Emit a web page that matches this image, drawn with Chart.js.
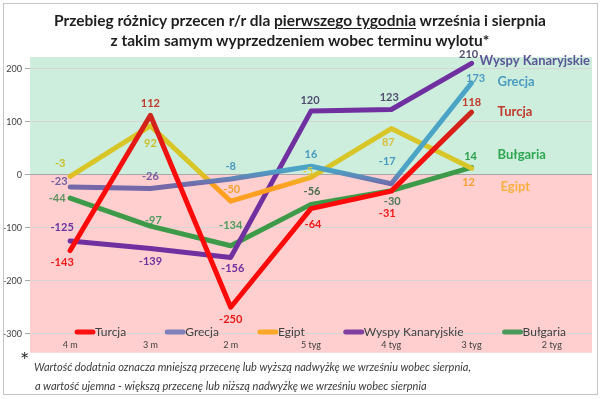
<!DOCTYPE html>
<html>
<head>
<meta charset="utf-8">
<script src="https://cdn.jsdelivr.net/npm/chart.js@4.4.0/dist/chart.umd.min.js"></script>
<style>
  html, body { margin: 0; padding: 0; background: #fff; }
  #wrap { position: relative; width: 600px; height: 399px; overflow: hidden; font-family: Lato, "Open Sans", sans-serif; }
  #frame { position: absolute; left: 3px; top: 3px; width: 595px; height: 392px; border: 1px solid #c4c4c4; box-sizing: border-box; }
  canvas { position: absolute; left: 0; top: 0; }
  .title { position: absolute; left: 0; width: 600px; text-align: center; font-weight: bold; font-size: 15.5px; line-height: 18px; color: #1e1e1e; }
  .title u { text-underline-offset: 2px; }
  .star { position: absolute; left: 20px; top: 349px; font-size: 22px; line-height: 22px; color: #333; }
  .note { position: absolute; font-style: italic; font-size: 11px; line-height: 14px; color: #3a3a3a; white-space: nowrap; }
</style>
</head>
<body>
<div id="wrap">
  <canvas id="chart" width="600" height="399"></canvas>
  <div id="frame"></div>
  <div class="title" style="top:11px">Przebieg różnicy przecen r/r dla <u>pierwszego tygodnia</u> września i sierpnia</div>
  <div class="title" style="top:31px">z takim samym wyprzedzeniem wobec terminu wylotu*</div>
  <div class="star">*</div>
  <div class="note" style="left:34px;top:360px">Wartość dodatnia oznacza mniejszą przecenę lub wyższą nadwyżkę we wrześniu wobec sierpnia,</div>
  <div class="note" style="left:35px;top:379px">a wartość ujemna - większą przecenę lub niższą nadwyżkę we wrześniu wobec sierpnia</div>
</div>
<script>
var categories = ["4 m", "3 m", "2 m", "5 tyg", "4 tyg", "3 tyg", "2 tyg"];
var turcja = [-143, 112, -250, -64, -31, 118, null];
var grecja = [-23, -26, -8, 16, -17, 173, null];
var egipt = [-3, 92, -50, -5, 87, 12, null];
var wyspy = [-125, -139, -156, 120, 123, 210, null];
var bulgaria = [-44, -97, -134, -56, -30, 14, null];
var yTicks = [200, 100, 0, -100, -200, -300];

// label placement / colour per point (pixels from the point)
var labelStyle = {
    "Turcja": { off: [[-8, 12], [0, -12], [0, 12], [2, 16], [-4, 22], [0, -10]],
        col: ['#f01818', '#c0392b', '#f01818', '#f01818', '#f01818', '#c0392b'] },
    "Grecja": { off: [[-11, -5], [0, -12], [0, -12], [0, -12], [-4, -22], [4, -5]],
        col: ['#7060a0', '#7060a0', '#4a9ac0', '#4a9ac0', '#4a9ac0', '#4a9ac0'] },
    "Egipt": { off: [[-10, -13], [0, 18], [1, -12], [-3, -6], [-3, 14], [-3, 14]],
        col: ['#c8bf2a', '#c8bf2a', '#f7a030', '#d8c83a', '#d8c040', '#f7a030'] },
    "Wyspy Kanaryjskie": { off: [[-8, -14], [0, 13], [2, 11], [-1, -11], [-2, -12], [-3, -9]],
        col: ['#7030a0', '#7030a0', '#7030a0', '#4f4f70', '#4f4f70', '#4f4f70'] },
    "Bułgaria": { off: [[-13, 0], [3, -6], [0, -20], [1, -13], [1, 11], [-1, -11]],
        col: ['#5e8f60', '#4e9a5a', '#4e9a5a', '#4a6a50', '#4a7a55', '#2a9d4a'] }
};

// series names written next to the last point
var tagStyle = {
    "Wyspy Kanaryjskie": { dx: 8, dy: -3, col: '#5b5598' },
    "Grecja": { dx: 26, dy: -1, col: '#4a9bc0' },
    "Turcja": { dx: 26, dy: 0, col: '#c0392b' },
    "Bułgaria": { dx: 26, dy: -12, col: '#2ea652' },
    "Egipt": { dx: 29, dy: 18, col: '#f9b040' }
};

function vGrad(vTop, cTop, vBot, cBot) {
    return function (ctx) {
        var chart = ctx.chart;
        if (!chart.chartArea || !chart.scales.y) return cTop;
        var y = chart.scales.y;
        var g = chart.ctx.createLinearGradient(0, y.getPixelForValue(vTop), 0, y.getPixelForValue(vBot));
        g.addColorStop(0, cTop);
        g.addColorStop(1, cBot);
        return g;
    };
}

function series(label, data, color, legendColor) {
    return {
        label: label,
        data: data,
        borderColor: color,
        legendColor: legendColor,
        borderWidth: 5,
        borderJoinStyle: 'round',
        borderCapStyle: 'round',
        pointRadius: 0,
        tension: 0,
        fill: false
    };
}

// green above zero, pink below; the pink runs on under the category labels
var bandPlugin = {
    id: 'bands',
    beforeDraw: function (chart) {
        var a = chart.chartArea, c = chart.ctx, y = chart.scales.y;
        var y0 = y.getPixelForValue(0);
        var bottom = y.getPixelForValue(yTicks[yTicks.length - 1]) + 19;
        c.save();
        c.fillStyle = '#cdeedc';
        c.fillRect(a.left, a.top, a.right - a.left, y0 - a.top);
        c.fillStyle = '#ffcfcf';
        c.fillRect(a.left, y0, a.right - a.left, bottom - y0);
        c.restore();
    }
};

var labelPlugin = {
    id: 'pointLabels',
    afterDatasetsDraw: function (chart) {
        var c = chart.ctx;
        c.save();
        c.textBaseline = 'middle';
        chart.data.datasets.forEach(function (ds, i) {
            var meta = chart.getDatasetMeta(i);
            var st = labelStyle[ds.label];
            c.font = 'bold 11px Lato';
            c.textAlign = 'center';
            meta.data.forEach(function (pt, j) {
                var v = ds.data[j];
                if (v === null) return;
                c.fillStyle = st.col[j];
                c.fillText(String(v), pt.x + st.off[j][0], pt.y + st.off[j][1]);
            });
            // name tag next to the last point
            var last = ds.data.length - 1;
            while (ds.data[last] === null) last--;
            var tp = meta.data[last], tg = tagStyle[ds.label];
            c.font = 'bold 13px Lato';
            c.textAlign = 'left';
            c.fillStyle = tg.col;
            c.fillText(ds.label, tp.x + tg.dx, tp.y + tg.dy);
        });
        c.restore();
    }
};

var legendPlugin = {
    id: 'innerLegend',
    afterDraw: function (chart) {
        var c = chart.ctx;
        var x = 75, y = 332;
        c.save();
        c.font = '12px Lato';
        c.textBaseline = 'middle';
        c.textAlign = 'left';
        chart.data.datasets.forEach(function (ds) {
            c.strokeStyle = ds.legendColor;
            c.lineWidth = 5;
            c.lineCap = 'round';
            c.beginPath();
            c.moveTo(x + 2, y);
            c.lineTo(x + 18, y);
            c.stroke();
            c.fillStyle = '#404040';
            c.fillText(ds.label, x + 20, y);
            x += 20 + c.measureText(ds.label).width + 39;
        });
        c.restore();
    }
};

new Chart(document.getElementById("chart").getContext("2d"), {
    type: 'line',
    data: {
        labels: categories,
        datasets: [
            series("Turcja", turcja, vGrad(120, '#c8281e', 0, '#ff0a0a'), '#ff1010'),
            series("Grecja", grecja, vGrad(10, '#4ba3c6', -20, '#7468a8'), '#8080bb'),
            series("Egipt", egipt, vGrad(5, '#d8c628', -20, '#ffa020'), '#f9a828'),
            series("Wyspy Kanaryjskie", wyspy, '#7030a0', '#8040a0'),
            series("Bułgaria", bulgaria, '#3c9a48', '#4a9a5a')
        ]
    },
    options: {
        responsive: false,
        animation: false,
        layout: { padding: { left: 0, right: 8, top: 57, bottom: 47 } },
        plugins: {
            legend: { display: false },
            tooltip: { enabled: false }
        },
        scales: {
            x: {
                offset: true,
                grid: { display: false },
                border: { display: false },
                ticks: { color: '#404040', font: { size: 9, family: 'Lato' }, padding: -6, maxRotation: 0, autoSkip: false },
                afterFit: function (s) { s.height = 14; }
            },
            y: {
                min: -308,
                max: 222,
                afterBuildTicks: function (s) {
                    s.ticks = yTicks.map(function (v) { return { value: v }; });
                },
                afterFit: function (s) { s.width = 30; },
                grid: {
                    color: function (ctx) { return ctx.tick && ctx.tick.value === 0 ? '#a8a8a8' : '#d6d6d6'; },
                    tickColor: '#a8a8a8',
                    tickLength: 5
                },
                border: { display: false },
                ticks: { color: '#404040', font: { size: 9, family: 'Lato' }, padding: 3 }
            }
        }
    },
    plugins: [bandPlugin, labelPlugin, legendPlugin]
});
</script>
</body>
</html>
